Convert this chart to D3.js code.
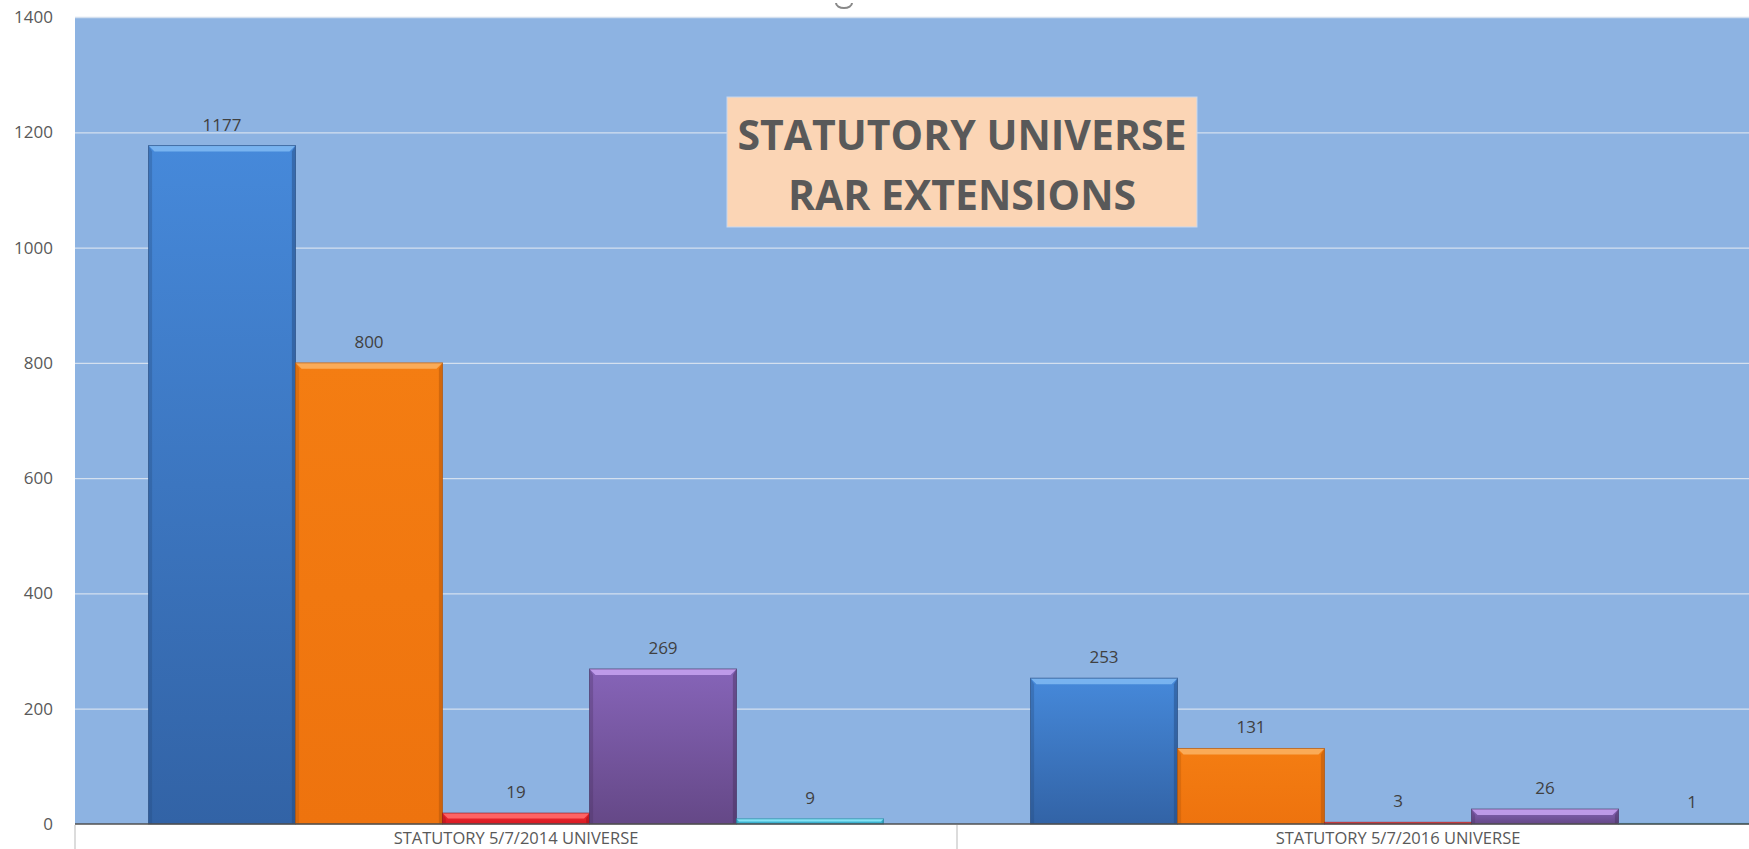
<!DOCTYPE html>
<html>
<head>
<meta charset="utf-8">
<script src="https://d3js.org/d3.v7.min.js"></script>
<style>
    body { margin: 0; background: #fff; }
    svg text { font-family: "Open Sans", "DejaVu Sans", sans-serif; }
</style>
</head>
<body>
<script>
    // data
    const categories = ['STATUTORY 5/7/2014 UNIVERSE', 'STATUTORY 5/7/2016 UNIVERSE'];
    const seriesNames = ['Series 1', 'Series 2', 'Series 3', 'Series 4', 'Series 5'];
    const values2014 = [1177, 800, 19, 269, 9];
    const values2016 = [253, 131, 3, 26, 1];
    const yTicks = [0, 200, 400, 600, 800, 1000, 1200, 1400];
    const titleLines = ['STATUTORY UNIVERSE', 'RAR EXTENSIONS'];

    // per series: gradient top, gradient bottom, bevel light, outline
    const colors = [
        {top: '#4689da', bot: '#3263a6', light: '#7db8f2', edge: '#24487a'},
        {top: '#f47d12', bot: '#ee730e', light: '#fbb060', edge: '#a85008'},
        {top: '#f02830', bot: '#d81a22', light: '#ff6a6a', edge: '#901014'},
        {top: '#8664b8', bot: '#654887', light: '#c4a0ee', edge: '#44305e'},
        {top: '#48c4e2', bot: '#38aac8', light: '#8ce6f6', edge: '#20809a'}
    ];

    const width = 1749, height = 849;
    const plot = {left: 75, top: 17, bottom: 824, catWidth: 882};

    const svg = d3.select('body').append('svg')
        .attr('width', width)
        .attr('height', height);

    const rows = [values2014, values2016];

    const x0 = d3.scaleBand()
        .domain(categories)
        .range([plot.left, plot.left + plot.catWidth * categories.length])
        .padding(0);

    const x1 = d3.scaleBand()
        .domain(seriesNames)
        .range([0, x0.bandwidth()])
        .paddingInner(0)
        .paddingOuter(0.5);

    const y = d3.scaleLinear()
        .domain([0, 1400])
        .range([plot.bottom, plot.top]);

    // gradients
    const defs = svg.append('defs');
    colors.forEach(function(c, i) {
        const g = defs.append('linearGradient')
            .attr('id', 'grad' + i)
            .attr('x1', 0).attr('y1', 0).attr('x2', 0).attr('y2', 1);
        g.append('stop').attr('offset', '0%').attr('stop-color', c.top);
        g.append('stop').attr('offset', '100%').attr('stop-color', c.bot);
    });

    // plot area background
    svg.append('rect')
        .attr('x', plot.left)
        .attr('y', plot.top)
        .attr('width', width - plot.left)
        .attr('height', plot.bottom - plot.top)
        .attr('fill', '#8db3e2');

    // gridlines
    svg.append('g')
        .attr('transform', 'translate(' + plot.left + ',0)')
        .call(d3.axisLeft(y).tickValues(yTicks.slice(1)).tickSize(-(width - plot.left)).tickFormat(''))
        .call(g => g.select('.domain').remove())
        .call(g => g.selectAll('line').attr('stroke', '#d4e0ef').attr('stroke-width', 1.3));

    // y labels
    svg.append('g')
        .attr('transform', 'translate(' + (plot.left - 19) + ',0)')
        .call(d3.axisLeft(y).tickValues(yTicks).tickSize(0).tickFormat(d3.format('d')))
        .call(g => g.select('.domain').remove())
        .call(g => g.selectAll('text')
            .attr('fill', '#595959')
            .style('font-size', '17px'));

    // bars
    const groups = svg.selectAll('.cat')
        .data(categories)
        .enter().append('g')
        .attr('class', 'cat')
        .attr('transform', d => 'translate(' + x0(d) + ',0)');

    groups.each(function(cat, ci) {
        const g = d3.select(this);
        const vals = rows[ci];
        seriesNames.forEach(function(s, si) {
            const v = vals[si];
            const c = colors[si];
            const bx = x1(s), bw = x1.bandwidth();
            const by = y(v), bh = y(0) - y(v);
            const b = Math.min(6, bh / 2);

            g.append('rect')
                .attr('x', bx).attr('y', by)
                .attr('width', bw).attr('height', bh)
                .attr('fill', 'url(#grad' + si + ')');

            // bevel top
            g.append('path')
                .attr('d', 'M' + bx + ',' + by + 'L' + (bx + bw) + ',' + by +
                    'L' + (bx + bw - b) + ',' + (by + b) + 'L' + (bx + b) + ',' + (by + b) + 'Z')
                .attr('fill', c.light)
                .attr('opacity', 0.9);
            // bevel right
            g.append('path')
                .attr('d', 'M' + (bx + bw) + ',' + by + 'L' + (bx + bw) + ',' + (by + bh) +
                    'L' + (bx + bw - b * 0.6) + ',' + (by + bh) + 'L' + (bx + bw - b * 0.6) + ',' + (by + b) + 'Z')
                .attr('fill', c.edge)
                .attr('opacity', 0.45);
            // bevel left
            g.append('path')
                .attr('d', 'M' + bx + ',' + by + 'L' + bx + ',' + (by + bh) +
                    'L' + (bx + b * 0.6) + ',' + (by + bh) + 'L' + (bx + b * 0.6) + ',' + (by + b) + 'Z')
                .attr('fill', c.edge)
                .attr('opacity', 0.3);

            g.append('rect')
                .attr('x', bx).attr('y', by)
                .attr('width', bw).attr('height', bh)
                .attr('fill', 'none')
                .attr('stroke', c.edge)
                .attr('stroke-opacity', 0.6)
                .attr('stroke-width', 1);

            g.append('text')
                .attr('x', bx + bw / 2)
                .attr('y', by - 15)
                .attr('text-anchor', 'middle')
                .attr('fill', '#404040')
                .style('font-size', '17px')
                .text(v);
        });
    });

    // category axis
    const xAxis = svg.append('g')
        .attr('transform', 'translate(0,' + plot.bottom + ')')
        .call(d3.axisBottom(x0).tickSize(0).tickPadding(0))
        .call(g => g.select('.domain').remove())
        .call(g => g.selectAll('text')
            .attr('dy', null)
            .attr('y', 20)
            .attr('fill', '#595959')
            .style('font-size', '16.5px'));

    xAxis.append('line')
        .attr('x1', plot.left).attr('x2', width)
        .attr('y1', 0).attr('y2', 0)
        .attr('stroke', '#505050')
        .attr('stroke-width', 1.5);

    // separators between categories
    const bounds = categories.map(d => x0(d));
    xAxis.selectAll('.sep')
        .data(bounds)
        .enter().append('line')
        .attr('class', 'sep')
        .attr('x1', d => d).attr('x2', d => d)
        .attr('y1', 1).attr('y2', 26)
        .attr('stroke', '#d0d0d0')
        .attr('stroke-width', 1.5);

    // title box
    const tx = 962, ty = 97;
    svg.append('rect')
        .attr('x', 727).attr('y', ty)
        .attr('width', 470).attr('height', 130)
        .attr('fill', '#fbd5b5')
        .attr('stroke', '#c8d8ee')
        .attr('stroke-width', 1);

    svg.selectAll('.title')
        .data(titleLines)
        .enter().append('text')
        .attr('class', 'title')
        .attr('x', tx)
        .attr('y', (d, i) => 150 + i * 60)
        .attr('text-anchor', 'middle')
        .attr('fill', '#595959')
        .style('font-size', '41px')
        .style('font-weight', 'bold')
        .text(d => d);

    // small handle mark at the top
    svg.append('path')
        .attr('d', 'M836,3 A8,5 0 0 0 852,3')
        .attr('fill', 'none')
        .attr('stroke', '#888')
        .attr('stroke-width', 2);
</script>
</body>
</html>
